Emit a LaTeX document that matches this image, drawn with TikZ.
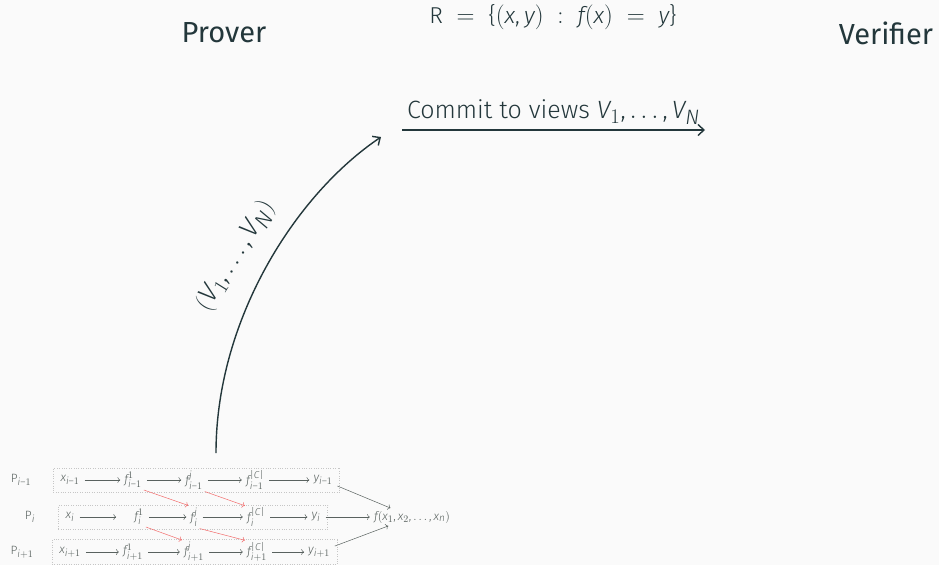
\documentclass[tikz,border=0pt]{standalone}
\usepackage{fontspec}
\setmainfont{Fira Sans}[UprightFont=* Light, ItalicFont=* Light Italic]
\newfontfamily\headfont{Fira Sans}
\usepackage[italic]{mathastext}
\usetikzlibrary{fit,arrows.meta}
\definecolor{mDarkTeal}{HTML}{23373B}
\definecolor{mBack}{HTML}{FAFAFA}
\definecolor{cellgray}{HTML}{59625F}
\definecolor{crossred}{HTML}{F26B6B}
\tikzset{
  party/.style={text=mDarkTeal, font=\headfont\fontsize{29}{34}\selectfont},
  cell/.style={text=cellgray, font=\fontsize{12}{14}\selectfont, inner sep=2pt},
  rowbox/.style={draw=gray!45, dotted, inner xsep=5pt, inner ysep=5pt},
  flow/.style={->, draw=cellgray, line width=0.5pt, shorten <=3pt, shorten >=2pt},
  cross/.style={->, draw=crossred, line width=0.5pt},
  bigarrow/.style={-{Straight Barb[length=6pt,width=11pt]}, draw=mDarkTeal,
    line width=1.4pt},
}
\begin{document}
\begin{tikzpicture}[x=1pt,y=-1pt]
  \fill[mBack] (0,0) rectangle (939,565);
  \useasboundingbox (0,0) rectangle (939,565);
  % headers
  \node[party] (prover) at (224,33) {Prover};
  \node[party] (verifier) at (886,33) {Verifier};
  \node[text=mDarkTeal, font=\fontsize{23}{27}\selectfont] (rel) at (553,17)
    {$\mathrm{R} \;=\; \{(x,y) \;:\; f(x) \;=\; y\}$};
  % commitment
  \coordinate (cstart) at (402,130); \coordinate (cend) at (705,130);
  \draw[bigarrow] (cstart) -- node[above, inner sep=5pt,
    font=\fontsize{25}{30}\selectfont, text=mDarkTeal]
    {Commit to views $V_1,\ldots,V_N$} (cend);
  \coordinate (vstart) at (216,453); \coordinate (vend) at (381,137);
  \draw[bigarrow] (vstart) .. controls (216,320) and (295,195) .. (vend);
  \node[text=mDarkTeal, font=\fontsize{27}{32}\selectfont, rotate=58]
    (views) at (236,256) {$(V_1,\ldots,V_N)$};
  % parties rows
  \node[cell] (p1) at (21,480) {$\mathrm{P}_{i-1}$};
  \node[cell] (p2) at (30,517) {$\mathrm{P}_i$};
  \node[cell] (p3) at (22,552) {$\mathrm{P}_{i+1}$};
  \node[cell] (x1) at (70,480) {$x_{i-1}$};
  \node[cell] (a1) at (133,480) {$f^1_{i-1}$};
  \node[cell] (b1) at (194,480) {$f^j_{i-1}$};
  \node[cell] (c1) at (255,480) {$f^{|C|}_{i-1}$};
  \node[cell] (y1) at (323,480) {$y_{i-1}$};
  \node[cell] (x2) at (70,517) {$x_i$};
  \node[cell] (a2) at (139,517) {$f^1_i$};
  \node[cell] (b2) at (194,517) {$f^j_i$};
  \node[cell] (c2) at (256,517) {$f^{|C|}_i$};
  \node[cell] (y2) at (316,517) {$y_i$};
  \node[cell] (x3) at (70,552) {$x_{i+1}$};
  \node[cell] (a3) at (133,552) {$f^1_{i+1}$};
  \node[cell] (b3) at (194,552) {$f^j_{i+1}$};
  \node[cell] (c3) at (257,552) {$f^{|C|}_{i+1}$};
  \node[cell] (y3) at (319,552) {$y_{i+1}$};
  \node[cell] (out) at (412,517) {$f(x_1,x_2,\ldots,x_n)$};
  \node[rowbox, fit=(x1)(y1)] (box1) {};
  \node[rowbox, fit=(x2)(y2)] (box2) {};
  \node[rowbox, fit=(x3)(y3)] (box3) {};
  \foreach \r in {1,2,3} {
    \draw[flow] (a\r) -- (b\r);
    \draw[flow] (b\r) -- (c\r);
    \draw[flow] (c\r) -- (y\r);
  }
  \draw[flow] (x1) -- (a1);
  \draw[flow, shorten >=16pt] (x2) -- (a2);
  \draw[flow] (x3) -- (a3);
  \draw[flow] (y1) -- (out);
  \draw[flow] (y2) -- (out);
  \draw[flow] (y3) -- (out);
  % cross terms
  \draw[cross] (a1.south east) -- (b2.north west);
  \draw[cross] (b1.south east) -- (c2.north west);
  \draw[cross] (a2.south east) -- (b3.north west);
  \draw[cross] (b2.south east) -- (c3.north west);
\end{tikzpicture}
\end{document}
